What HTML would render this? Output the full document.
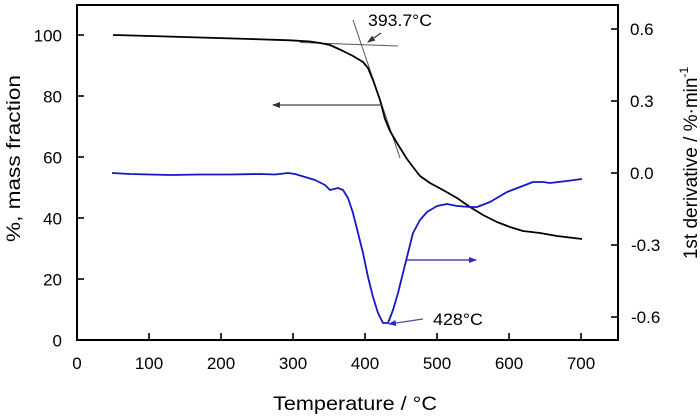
<!DOCTYPE html>
<html><head><meta charset="utf-8"><style>
html,body{margin:0;padding:0;background:#fff;}
svg{display:block;}
text{font-family:"Liberation Sans",Arial,sans-serif;fill:#000;}
</style></head><body>
<svg width="700" height="417" viewBox="0 0 700 417" xmlns="http://www.w3.org/2000/svg">
<defs>
<marker id="ah" markerWidth="8" markerHeight="6" refX="7" refY="3" orient="auto" markerUnits="userSpaceOnUse"><path d="M0,0 L8,3 L0,6 Z" fill="#333"/></marker>
<marker id="ahb" markerWidth="8" markerHeight="6" refX="7" refY="3" orient="auto" markerUnits="userSpaceOnUse"><path d="M0,0 L8,3 L0,6 Z" fill="#2a2ac0"/></marker>
</defs>
<rect x="0" y="0" width="700" height="417" fill="#fff"/>
<!-- frame -->
<rect x="77" y="5" width="541" height="335" fill="none" stroke="#000" stroke-width="2"/>
<!-- bottom ticks -->
<g stroke="#000" stroke-width="1.6">
<line x1="149" y1="340" x2="149" y2="333"/>
<line x1="221" y1="340" x2="221" y2="333"/>
<line x1="293" y1="340" x2="293" y2="333"/>
<line x1="365" y1="340" x2="365" y2="333"/>
<line x1="437" y1="340" x2="437" y2="333"/>
<line x1="509" y1="340" x2="509" y2="333"/>
<line x1="581" y1="340" x2="581" y2="333"/>
<line x1="77" y1="279" x2="84" y2="279"/>
<line x1="77" y1="218" x2="84" y2="218"/>
<line x1="77" y1="157" x2="84" y2="157"/>
<line x1="77" y1="96" x2="84" y2="96"/>
<line x1="77" y1="35" x2="84" y2="35"/>
<line x1="618" y1="29" x2="611" y2="29"/>
<line x1="618" y1="101" x2="611" y2="101"/>
<line x1="618" y1="173" x2="611" y2="173"/>
<line x1="618" y1="245" x2="611" y2="245"/>
<line x1="618" y1="317" x2="611" y2="317"/>
</g>
<!-- left labels -->
<g font-size="17" text-anchor="end">
<text x="62" y="41.5">100</text>
<text x="62" y="102.5">80</text>
<text x="62" y="163.5">60</text>
<text x="62" y="224.5">40</text>
<text x="62" y="285.5">20</text>
<text x="62" y="346.5">0</text>
</g>
<!-- bottom labels -->
<g font-size="17" text-anchor="middle">
<text x="77" y="369">0</text>
<text x="149" y="369">100</text>
<text x="221" y="369">200</text>
<text x="293" y="369">300</text>
<text x="365" y="369">400</text>
<text x="437" y="369">500</text>
<text x="509" y="369">600</text>
<text x="581" y="369">700</text>
</g>
<!-- right labels -->
<g font-size="17">
<text x="630" y="35">0.6</text>
<text x="630" y="107">0.3</text>
<text x="630" y="179">0.0</text>
<text x="631" y="251">-0.3</text>
<text x="631" y="323">-0.6</text>
</g>
<!-- titles -->
<text x="355" y="410" font-size="19" text-anchor="middle" textLength="164" lengthAdjust="spacingAndGlyphs">Temperature / °C</text>
<text transform="translate(20,158.5) rotate(-90)" font-size="19" text-anchor="middle" textLength="167" lengthAdjust="spacingAndGlyphs">%, mass fraction</text>
<text transform="translate(697,163) rotate(-90)" font-size="19" text-anchor="middle">1st derivative / %·min<tspan font-size="12" dy="-9">-1</tspan></text>
<!-- tangent lines -->
<g stroke="#555" stroke-width="1" fill="none">
<line x1="300" y1="42.5" x2="398" y2="46"/>
<line x1="353" y1="20" x2="400" y2="158"/>
</g>
<!-- black TG curve -->
<polyline fill="none" stroke="#000" stroke-width="1.8" stroke-linejoin="round" points="113,35 150,36 200,37.5 250,39 290,40.3 310,41.5 320,43 330,45 343,51 353,56 363,62 368,68 373,80 380,100 385,119 390,131 397,143 407,159 413,167 420,176 430,183 443,190 457,198 470,207 483,215 497,222 510,227 523,231 540,233 557,236 582,239"/>
<!-- blue DTG curve -->
<polyline fill="none" stroke="#1616c8" stroke-width="1.8" stroke-linejoin="round" points="112,173 130,174 150,174.5 170,175 200,174.5 230,174.5 260,174 275,174.5 288,173 295,174 305,177 315,180 325,185 330,190 334,189 338,188 343,190 348,198 353,213 358,233 363,253 368,277 373,297 378,313 383,323 388,323 393,310 398,293 403,273 408,253 413,233 420,220 427,212 437,206 447,204 457,206 470,207 477,207 490,202 507,192 520,187 533,182 543,182 550,183 567,181 582,179"/>
<!-- arrows -->
<line x1="382" y1="105" x2="273" y2="105" stroke="#444" stroke-width="1.2" marker-end="url(#ah)"/>
<line x1="407" y1="260" x2="476" y2="260" stroke="#4a4ab8" stroke-width="1.4" marker-end="url(#ahb)"/>
<line x1="381" y1="33" x2="368" y2="42" stroke="#333" stroke-width="1.2" marker-end="url(#ah)"/>
<line x1="423" y1="319" x2="389" y2="324" stroke="#4a4ab8" stroke-width="1.2" marker-end="url(#ahb)"/>
<!-- annotations -->
<text x="368" y="26" font-size="17" textLength="64" lengthAdjust="spacingAndGlyphs">393.7°C</text>
<text x="433" y="325" font-size="17" textLength="50" lengthAdjust="spacingAndGlyphs">428°C</text>
</svg>
</body></html>
